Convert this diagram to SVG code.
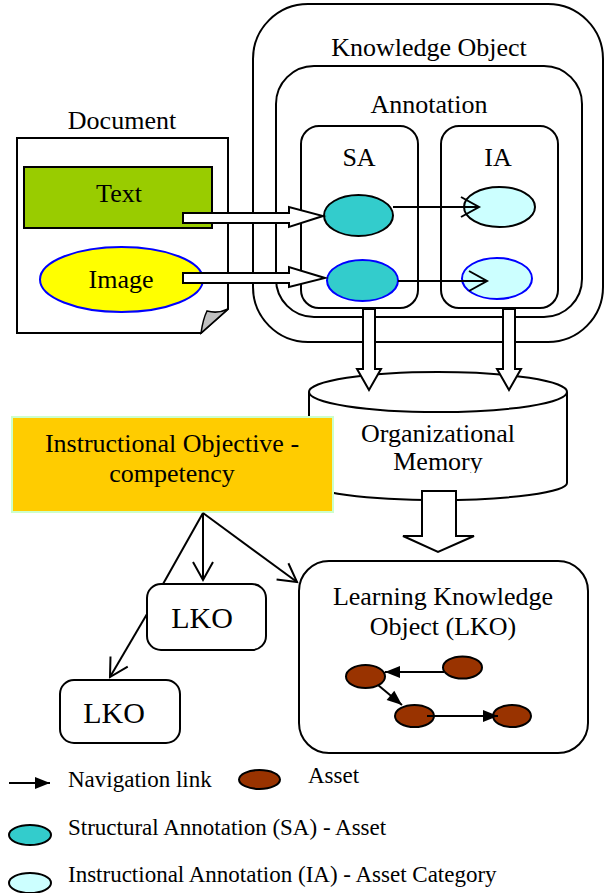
<svg xmlns="http://www.w3.org/2000/svg" width="606" height="893" viewBox="0 0 606 893">
<style>
text{font-family:"Liberation Serif","Times New Roman",serif;font-size:26px;fill:#000}
.c{text-anchor:middle}
.lk{font-size:30px}
.lg{font-size:23px}
.box{fill:none;stroke:#000;stroke-width:2}
.wbox{fill:#fff;stroke:#000;stroke-width:2}
.sa{fill:#33cccc;stroke:#000;stroke-width:2}
.ia{fill:#ccffff;stroke:#000;stroke-width:2}
.blue{stroke:#0000ff}
.asset{fill:#993300;stroke:#000;stroke-width:2}
.ln{fill:none;stroke:#000;stroke-width:2}
.blk{fill:#fff;stroke:#000;stroke-width:2;stroke-linejoin:miter}
</style>
<defs>
<marker id="open" viewBox="0 -11 20 22" refX="18" refY="0" markerWidth="20" markerHeight="22" markerUnits="userSpaceOnUse" orient="auto" overflow="visible">
<path d="M0,-10 L18,0 L0,10" fill="none" stroke="#000" stroke-width="2"/>
</marker>
<marker id="fill" viewBox="0 -7 16 14" refX="15" refY="0" markerWidth="16" markerHeight="14" markerUnits="userSpaceOnUse" orient="auto" overflow="visible">
<path d="M0,-6 L15,0 L0,6 Z" fill="#000"/>
</marker>
<clipPath id="memclip"><rect x="300" y="400" width="280" height="73"/></clipPath>
</defs>

<g id="document">
<text class="c" x="122" y="129">Document</text>
<path d="M17,138 H228 V309 L201,333 H17 Z" class="wbox"/>
<path d="M228,309 L201,333 Q203,319 207,311 Q218,314 228,309 Z" fill="#c0c0c0" stroke="#000" stroke-width="1.5"/>
<rect id="text-node" x="24" y="167" width="188" height="61" fill="#99cc00" stroke="#000" stroke-width="2"/>
<text class="c" x="119" y="202">Text</text>
<ellipse id="image-node" cx="121.5" cy="279.5" rx="81.5" ry="32.5" fill="#ffff00" stroke="#0000ff" stroke-width="2"/>
<text class="c" x="121" y="288">Image</text>
</g>

<g id="knowledge-object">
<rect x="253" y="4" width="350" height="338" rx="55" class="box"/>
<text class="c" x="429" y="56">Knowledge Object</text>
</g>

<g id="annotation">
<rect x="276" y="66" width="306" height="251" rx="38" class="box"/>
<text class="c" x="429" y="113">Annotation</text>
</g>

<g id="sa">
<rect x="301" y="126" width="117" height="182" rx="18" class="box"/>
<text class="c" x="359" y="166">SA</text>
<ellipse id="sa1" cx="358.5" cy="215.5" rx="34.5" ry="20.5" class="sa"/>
<ellipse id="sa2" cx="362.5" cy="280.5" rx="35.5" ry="20.5" class="sa blue"/>
</g>

<g id="ia">
<rect x="441" y="126" width="117" height="182" rx="18" class="box"/>
<text class="c" x="498" y="166">IA</text>
<ellipse id="ia1" cx="499.5" cy="207" rx="35.5" ry="20" class="ia"/>
<ellipse id="ia2" cx="497" cy="278.5" rx="35" ry="20.5" class="ia blue"/>
</g>

<g id="organizational-memory">
<path d="M309,392 V483 A129,17 0 0 0 567,483 V392" class="wbox"/>
<ellipse cx="438" cy="392" rx="129" ry="20" class="wbox"/>
<text class="c" x="438" y="442">Organizational</text>
<text class="c" x="438" y="470" clip-path="url(#memclip)">Memory</text>
</g>

<g id="instructional-objective">
<rect x="12" y="417" width="321" height="95" fill="#ffcc00" stroke="#ccffcc" stroke-width="2"/>
<text class="c" x="172" y="452">Instructional Objective -</text>
<text class="c" x="172" y="482">competency</text>
</g>

<g id="lko-main">
<rect x="299" y="561" width="289" height="192" rx="30" class="box"/>
<text class="c" x="443" y="605">Learning Knowledge</text>
<text class="c" x="443" y="635">Object (LKO)</text>
<ellipse id="asset1" cx="365.5" cy="676.5" rx="19.5" ry="11.5" class="asset"/>
<ellipse id="asset2" cx="462.5" cy="667.5" rx="19.5" ry="11" class="asset"/>
<ellipse id="asset3" cx="414.5" cy="716" rx="19.5" ry="11" class="asset"/>
<ellipse id="asset4" cx="512" cy="716" rx="19" ry="11" class="asset"/>
</g>

<g id="lko1">
<rect x="147" y="584" width="119" height="66" rx="14" class="box"/>
<text class="c lk" x="202" y="628">LKO</text>
</g>

<g id="lko2">
<rect x="60" y="680" width="120" height="63" rx="14" class="box"/>
<text class="c lk" x="114" y="723">LKO</text>
</g>

<g id="connectors">
<polygon points="183,213 289,213 289,207 323,216 289,227 289,223 183,223" class="blk"/>
<polygon points="183,273 289,273 289,267 325,278 289,287 289,283 183,283" class="blk"/>
<line x1="393" y1="207" x2="479" y2="207" class="ln" marker-end="url(#open)"/>
<line x1="398" y1="281" x2="487" y2="281" class="ln" marker-end="url(#open)"/>
<polygon points="363,309 375,309 375,369 381,369 369,390 357,369 363,369" class="blk"/>
<polygon points="503,309 515,309 515,369 521,369 509,390 497,369 503,369" class="blk"/>
<polygon points="422,491 456,491 456,536 474,536 438,552 403,536 422,536" class="blk"/>
<line x1="203" y1="513" x2="203" y2="580" class="ln" marker-end="url(#open)"/>
<line x1="203" y1="513" x2="297" y2="582" class="ln" marker-end="url(#open)"/>
<line x1="203" y1="513" x2="163" y2="584" class="ln"/>
<line x1="147" y1="614" x2="110" y2="677" class="ln" marker-end="url(#open)"/>
<line x1="444" y1="672" x2="385" y2="672" class="ln" marker-end="url(#fill)"/>
<line x1="378" y1="685" x2="402" y2="705" class="ln" marker-end="url(#fill)"/>
<line x1="427" y1="716" x2="498" y2="716" class="ln" marker-end="url(#fill)"/>
</g>

<g id="legend">
<line x1="9" y1="783" x2="50" y2="783" class="ln" marker-end="url(#fill)"/>
<text class="lg" x="68" y="787">Navigation link</text>
<ellipse cx="259.5" cy="779.5" rx="20.5" ry="9.5" class="asset"/>
<text class="lg" x="308" y="783">Asset</text>
<ellipse cx="30" cy="835" rx="21" ry="10" class="sa"/>
<text class="lg" x="68" y="835">Structural Annotation (SA) - Asset</text>
<ellipse cx="30" cy="883" rx="21" ry="10" class="ia"/>
<text class="lg" x="68" y="882">Instructional Annotation (IA) - Asset Category</text>
</g>
</svg>
